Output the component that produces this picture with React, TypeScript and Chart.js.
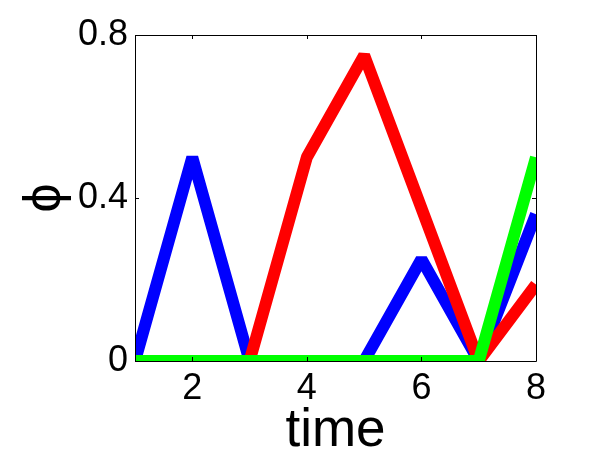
import React, { useEffect, useRef } from "react";
import { Chart, registerables } from "chart.js";

Chart.register(...registerables);

const timeSteps = [1, 2, 3, 4, 5, 6, 7, 8];
const blueSeries = [0, 0.5, 0, 0, 0, 0.25, 0, 0.36];
const redSeries = [0, 0, 0, 0.5, 0.75, 0.375, 0, 0.1875];
const greenSeries = [0, 0, 0, 0, 0, 0, 0, 0.5];
const xTicks = [2, 4, 6, 8];
const yTicks = [0, 0.4, 0.8];
const xTitle = "time";
const yTitle = "ϕ";

const FONT = "'Liberation Sans', Arial, Helvetica, sans-serif";

const boxPlugin = {
  id: "boxTicks",
  afterDraw(chart: any) {
    const { ctx, chartArea } = chart;
    const { left, right, top, bottom } = chartArea;
    const xs = chart.scales.x;
    const ys = chart.scales.y;
    ctx.save();
    ctx.strokeStyle = "#000";
    ctx.lineWidth = 1;
    ctx.beginPath();
    ctx.rect(Math.round(left) + 0.5, Math.round(top) + 0.5, Math.round(right - left), Math.round(bottom - top));
    ctx.stroke();
    const len = 4;
    ctx.beginPath();
    xTicks.forEach((v) => {
      const px = Math.round(xs.getPixelForValue(v)) + 0.5;
      ctx.moveTo(px, top);
      ctx.lineTo(px, top + len);
      ctx.moveTo(px, bottom);
      ctx.lineTo(px, bottom - len);
    });
    yTicks.forEach((v) => {
      const py = Math.round(ys.getPixelForValue(v)) + 0.5;
      ctx.moveTo(left, py);
      ctx.lineTo(left + len, py);
      ctx.moveTo(right, py);
      ctx.lineTo(right - len, py);
    });
    ctx.stroke();
    ctx.restore();
  },
};

export default function App() {
  const ref = useRef<HTMLCanvasElement | null>(null);
  useEffect(() => {
    document.body.style.margin = "0";
    const mk = (data: number[], color: string, order: number) => ({
      data: timeSteps.map((t, i) => ({ x: t, y: data[i] })),
      borderColor: color,
      backgroundColor: color,
      borderWidth: 12,
      pointRadius: 0,
      borderJoinStyle: "bevel" as const,
      borderCapStyle: "butt" as const,
      tension: 0,
      clip: 0,
      fill: false,
      order,
    });
    const chart = new Chart(ref.current as HTMLCanvasElement, {
      type: "line",
      data: {
        datasets: [
          mk(blueSeries, "#0000ff", 3),
          mk(redSeries, "#ff0000", 2),
          mk(greenSeries, "#00ff00", 1),
        ],
      },
      plugins: [boxPlugin],
      options: {
        animation: false,
        responsive: false,
        maintainAspectRatio: false,
        layout: { padding: { top: 35, right: 56, left: 0, bottom: 0 } },
        plugins: { legend: { display: false }, tooltip: { enabled: false } },
        scales: {
          x: {
            type: "linear",
            min: 1,
            max: 8,
            grid: { display: false, drawTicks: false },
            border: { display: false },
            afterBuildTicks: (s: any) => {
              s.ticks = xTicks.map((v) => ({ value: v }));
            },
            afterFit: (s: any) => {
              s.height = 102;
            },
            ticks: {
              color: "#000",
              padding: 6,
              maxRotation: 0,
              font: { family: FONT, size: 36 },
              callback: (v: any) => String(v),
            },
            title: {
              display: true,
              text: xTitle,
              color: "#000",
              font: { family: FONT, size: 53 },
              padding: { top: 0, bottom: 0 },
            },
          },
          y: {
            type: "linear",
            min: 0,
            max: 0.8,
            grid: { display: false, drawTicks: false },
            border: { display: false },
            afterBuildTicks: (s: any) => {
              s.ticks = yTicks.map((v) => ({ value: v }));
            },
            afterFit: (s: any) => {
              s.width = 135;
            },
            ticks: {
              color: "#000",
              padding: 7,
              font: { family: FONT, size: 36 },
              callback: (v: any) => String(v),
            },
            title: {
              display: true,
              text: yTitle,
              color: "#000",
              font: { family: FONT, size: 52 },
              padding: { top: 14, bottom: 0 },
            },
          },
        },
      },
    });
    return () => chart.destroy();
  }, []);
  return (
    <div style={{ width: 592, height: 463, background: "#fff" }}>
      <canvas ref={ref} width={592} height={463} style={{ display: "block" }} />
    </div>
  );
}
